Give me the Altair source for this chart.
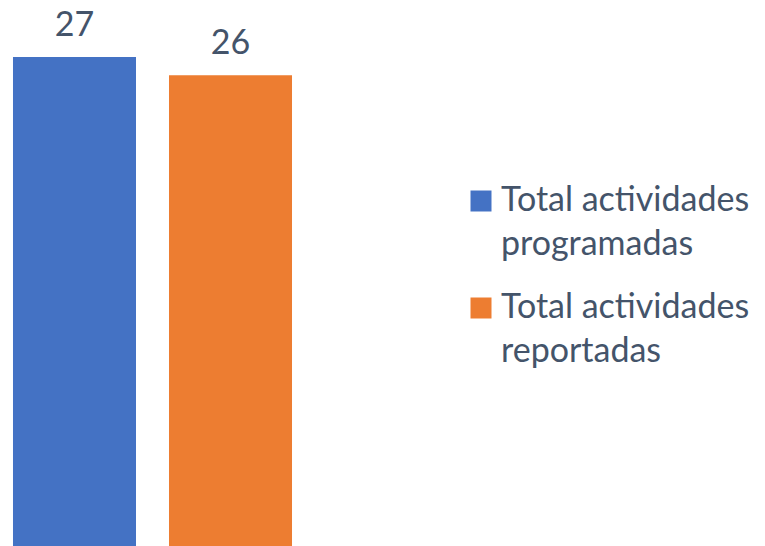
import altair as alt
import pandas as pd

categories = ["Total actividades programadas", "Total actividades reportadas"]
values = [27, 26]
colors = ["#4472C4", "#ED7D31"]

df = pd.DataFrame({"cat": categories, "val": values})

FONT = "Lato"
TXT = "#44546A"

x = alt.X("cat:N", sort=categories, axis=None,
          scale=alt.Scale(paddingInner=0.2115, paddingOuter=0.032))
y = alt.Y("val:Q", axis=None, scale=alt.Scale(domain=[0, 29.71], nice=False, zero=True))

bars = alt.Chart(df).mark_bar().encode(
    x=x, y=y,
    color=alt.Color("cat:N", sort=categories,
                    scale=alt.Scale(domain=categories, range=colors),
                    legend=alt.Legend(
                        title=None, orient="none", legendX=456, legendY=176,
                        padding=0,
                        symbolType="square", symbolSize=441, symbolStrokeWidth=0,
                        labelFont=FONT, labelFontSize=34, labelColor=TXT,
                        labelOffset=3, labelLimit=400, rowPadding=29,
                        labelExpr="split(replace(datum.label, 'actividades ', 'actividades|'), '|')",
                    )),
)

text = alt.Chart(df).mark_text(
    font=FONT, fontSize=34, color=TXT, baseline="alphabetic", dy=-21
).encode(x=x, y=y, text="val:Q")

chart = (bars + text).properties(
    width=289, height=538,
    padding={"left": 0, "top": 0, "right": 460, "bottom": 0},
    autosize=alt.AutoSizeParams(type="none"),
).configure(
    style={"guide-label": {"lineHeight": 44}}
).configure_view(stroke=None)

chart.save("out.html", embed_options={"renderer": "svg", "actions": False})
